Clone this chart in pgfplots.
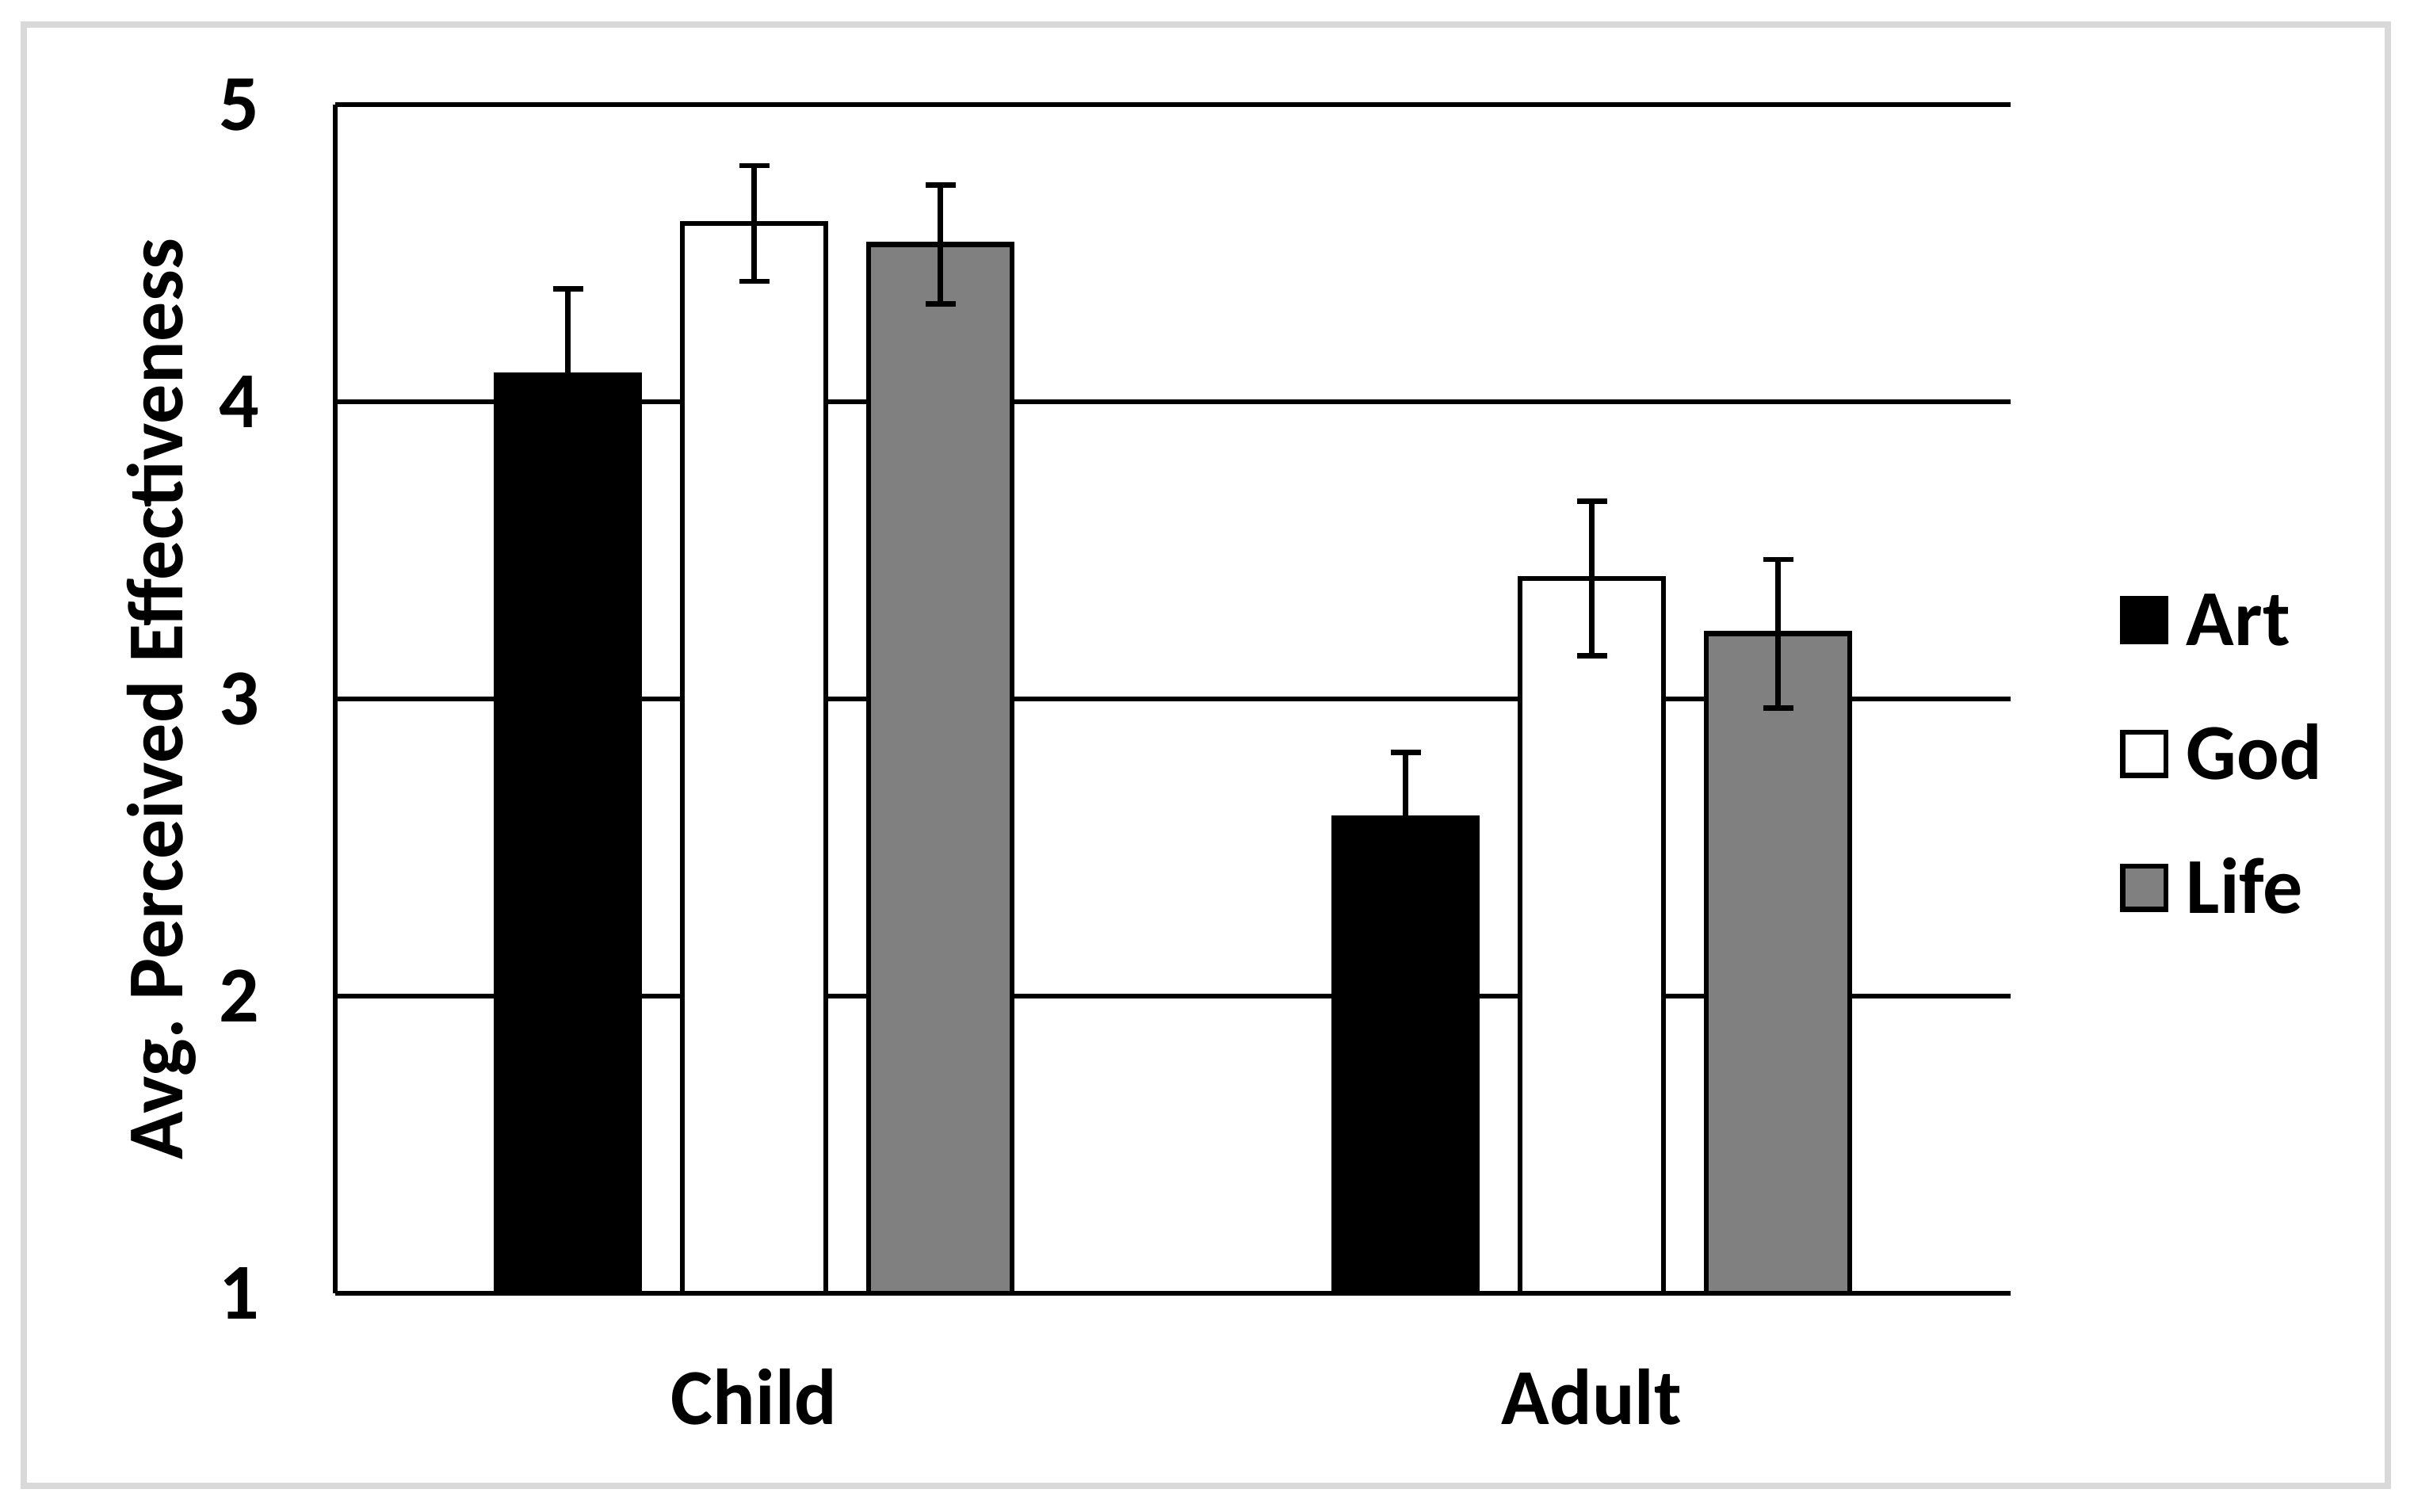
\documentclass[border=0pt]{standalone}
\usepackage{fontspec}
\setmainfont{Carlito}
\usepackage{pgfplots}
\pgfplotsset{compat=1.18}
\definecolor{bordergray}{RGB}{217,217,217}
\definecolor{lifegray}{RGB}{128,128,128}
\newcommand{\chartfont}{\bfseries\fontsize{20}{24}\selectfont}
\pgfplotsset{
  squarelegend/.style={legend image code/.code={%
    \draw[line width=1.3pt, draw=black, fill=#1] (0.65pt,-5.45pt) rectangle (11.55pt,5.45pt);}},
}
\begin{document}
\begin{tikzpicture}
\useasboundingbox (-84.6pt,-55pt) rectangle (524.6pt,326.4pt);
\draw[line width=1.6pt, bordergray] (-78.6pt,-48.6pt) rectangle (518pt,320.2pt);
\begin{axis}[
  scale only axis,
  width=422.8pt, height=300pt,
  xmin=-0.5, xmax=1.5,
  ymin=1, ymax=5,
  ytick={1,2,3,4,5},
  xtick={0,1},
  xticklabels={Child,Adult},
  axis x line*=bottom, axis y line*=left,
  axis line style={line width=1.3pt, -},
  ymajorgrids=true,
  major grid style={line width=1.3pt, black},
  major tick length=0pt,
  ybar=10.8pt, bar width=36.2pt,
  /pgf/number format/assume math mode=true,
  ticklabel style={font=\chartfont},
  yticklabel style={anchor=east, inner sep=0pt, xshift=-19pt},
  xticklabel style={anchor=base, yshift=-33pt},
  ylabel={Avg.\ Perceived Effectiveness},
  ylabel style={font=\chartfont, at={(axis description cs:-0.0913,0.5)}, anchor=base},
  legend style={draw=none, fill=none, font=\chartfont,
    at={(axis description cs:1.065,0.454)}, anchor=west,
    inner sep=0pt, row sep=20.8pt, column sep=4.5pt,
    nodes={inner sep=0pt, text height=13pt, text depth=0pt}},
  legend cell align=left,
  error bars/error bar style={line width=1.3pt, black},
  error bars/error mark options={rotate=90, mark size=3.8pt, line width=1.3pt, black},
]
\addplot[fill=black, draw=black, line width=1.3pt, squarelegend=black,
  error bars/.cd, y dir=both, y explicit]
  coordinates {(0,4.09) +- (0,0.29) (1,2.60) +- (0,0.22)};
\addplot[fill=white, draw=black, line width=1.3pt, squarelegend=white,
  error bars/.cd, y dir=both, y explicit]
  coordinates {(0,4.60) +- (0,0.195) (1,3.405) +- (0,0.26)};
\addplot[fill=lifegray, draw=black, line width=1.3pt, squarelegend=lifegray,
  error bars/.cd, y dir=both, y explicit]
  coordinates {(0,4.53) +- (0,0.20) (1,3.22) +- (0,0.25)};
\legend{Art,God,Life}
\end{axis}
\end{tikzpicture}
\end{document}
